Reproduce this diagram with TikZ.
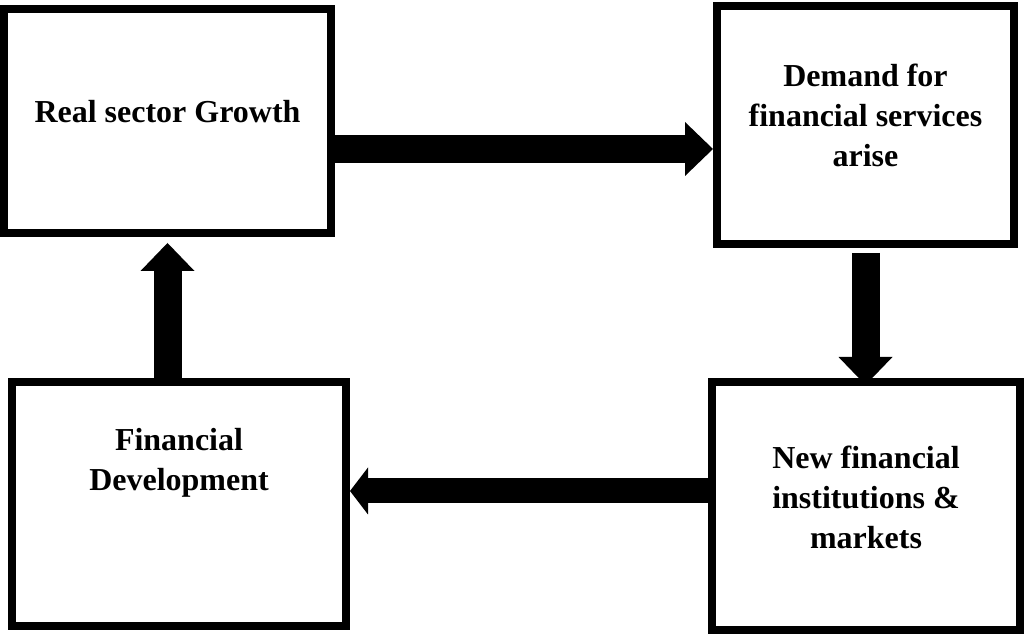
\documentclass[tikz,border=0pt]{standalone}
\usepackage{fontspec}
\setmainfont{Liberation Serif}
\usetikzlibrary{arrows.meta}
\begin{document}
\begin{tikzpicture}[
    box/.style={draw, rectangle, line width=0.16cm},
    boxtext/.style={align=center, font=\fontsize{18.2}{22.8}\selectfont\bfseries},
    bigarrow/.style={line width=0.56cm,
        -{Triangle[width=1.08cm,length=0.56cm,line width=0pt]}}
]
    % Fix the page size
    \useasboundingbox (0,0) rectangle (20.54,-12.74);

    % Draw the four boxes
    \node[box, minimum width=6.54cm, minimum height=4.48cm] (growth) at (3.35,-2.42) {};
    \node[box, minimum width=5.94cm, minimum height=4.76cm] (demand) at (17.31,-2.50) {};
    \node[box, minimum width=6.68cm, minimum height=4.88cm] (devel) at (3.58,-10.08) {};
    \node[box, minimum width=6.16cm, minimum height=4.96cm] (markets) at (17.32,-10.12) {};

    % Put the texts in the boxes
    \node[boxtext] (growthtext) at ([yshift=0.18cm]growth.center) {Real sector Growth};
    \node[boxtext] (demandtext) at ([yshift=0.2cm]demand.center) {Demand for\\financial services\\arise};
    \node[boxtext] (develtext) at ([yshift=0.82cm]devel.center) {Financial\\Development};
    \node[boxtext] (marketstext) at ([yshift=0.18cm]markets.center) {New financial\\institutions \&\\markets};

    % Draw the arrows of the cycle
    \coordinate (r1) at ([yshift=-0.56cm]growth.east);
    \draw[bigarrow] (r1) -- (r1 -| demand.west);
    \draw[bigarrow, shorten <=0.1cm, shorten >=-0.14cm] (demand.south) -- (demand.south |- markets.north);
    \coordinate (r3) at ([yshift=0.3cm]markets.west);
    \draw[line width=0.5cm, -{Triangle[width=0.94cm,length=0.36cm,line width=0pt]}] (r3) -- (r3 -| devel.east);
    \draw[bigarrow, shorten >=0.12cm] (growth.south |- devel.north) -- (growth.south);
\end{tikzpicture}
\end{document}
